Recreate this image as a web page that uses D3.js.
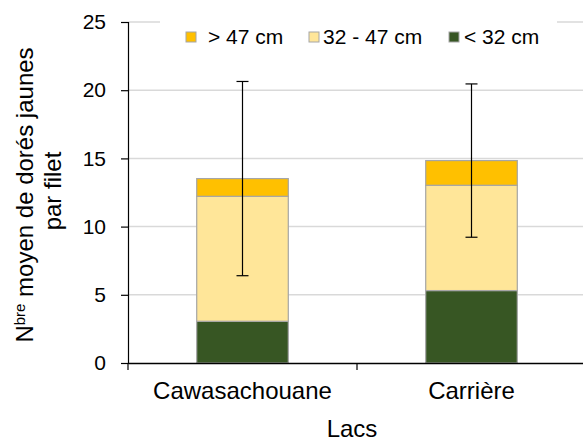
<!DOCTYPE html>
<html><head><meta charset="utf-8">
<script src="https://cdn.jsdelivr.net/npm/d3@7"></script>
<style>html,body{margin:0;padding:0;background:#fff;}svg{display:block;font-family:"Liberation Sans",Arial,sans-serif;}</style>
</head><body><svg id="c" width="583" height="441"></svg>
<script>
const categories = ["Cawasachouane", "Carrière"];
const seriesNames = ["< 32 cm", "32 - 47 cm", "> 47 cm"];
const small = [3.06, 5.31];
const medium = [9.16, 7.72];
const large = [1.30, 1.81];
const errorHalf = [7.12, 5.62];
const yTicks = [0, 5, 10, 15, 20, 25];
const colors = ["#375623", "#FFE699", "#FFC000"];
const legendOrder = ["> 47 cm", "32 - 47 cm", "< 32 cm"];

const svg = d3.select("#c");
const y = d3.scaleLinear().domain([0, 25]).range([363, 22]);
const x = d3.scaleBand().domain(categories).range([128, 586]).paddingInner(0).paddingOuter(0);

// gridlines
svg.append("g").selectAll("line").data(yTicks.filter(d => d > 0)).join("line")
  .attr("x1", 128).attr("x2", 586).attr("y1", d => y(d)).attr("y2", d => y(d))
  .attr("stroke", "#d9d9d9").attr("stroke-width", 1.5);

// stacked data
const rows = categories.map((c, i) => ({cat: c, "< 32 cm": small[i], "32 - 47 cm": medium[i], "> 47 cm": large[i]}));
const stack = d3.stack().keys(seriesNames)(rows);
const bw = x.bandwidth() * 0.4;
svg.append("g").selectAll("g").data(stack).join("g")
  .attr("fill", (d, i) => colors[i])
  .selectAll("rect").data(d => d).join("rect")
  .attr("x", d => x(d.data.cat) + (x.bandwidth() - bw) / 2)
  .attr("width", bw)
  .attr("y", d => y(d[1]))
  .attr("height", d => y(d[0]) - y(d[1]))
  .attr("stroke", "#a6a6a6").attr("stroke-width", 1.2);

// error bars
const totals = categories.map((c, i) => small[i] + medium[i] + large[i]);
const eg = svg.append("g").attr("stroke", "#000").attr("stroke-width", 1.2);
categories.forEach((c, i) => {
  const cx = x(c) + x.bandwidth() / 2;
  const hi = y(totals[i] + errorHalf[i]), lo = y(totals[i] - errorHalf[i]);
  eg.append("line").attr("x1", cx).attr("x2", cx).attr("y1", hi).attr("y2", lo);
  eg.append("line").attr("x1", cx - 6).attr("x2", cx + 6).attr("y1", hi).attr("y2", hi);
  eg.append("line").attr("x1", cx - 6).attr("x2", cx + 6).attr("y1", lo).attr("y2", lo);
});

// y axis
const yAxis = d3.axisLeft(y).tickValues(yTicks).tickSize(7).tickPadding(15).tickFormat(d3.format("d"));
const ya = svg.append("g").attr("transform", "translate(128,0)").call(yAxis);
ya.select(".domain").attr("stroke", "#000").attr("stroke-width", 1.2);
ya.selectAll(".tick line").attr("stroke", "#000").attr("stroke-width", 1.2);
ya.selectAll("text").attr("font-size", 21).attr("fill", "#000").attr("font-family", "Liberation Sans, Arial, sans-serif");

// x axis
const xAxis = d3.axisBottom(x).tickSize(0).tickPadding(19);
const xa = svg.append("g").attr("transform", "translate(0,363)").call(xAxis);
xa.select(".domain").attr("stroke", "#000").attr("stroke-width", 1.5);
xa.selectAll("text").attr("font-size", 24).attr("fill", "#000").attr("font-family", "Liberation Sans, Arial, sans-serif");
const bounds = x.domain().map(d => x(d)).concat([x.range()[1]]);
svg.append("g").selectAll("line").data(bounds).join("line")
  .attr("x1", d => d).attr("x2", d => d).attr("y1", 363).attr("y2", 370)
  .attr("stroke", "#000").attr("stroke-width", 1.2);

// axis titles
svg.append("text").attr("x", 352).attr("y", 437).attr("text-anchor", "middle")
  .attr("font-size", 24).attr("fill", "#000").text("Lacs");
const yt = svg.append("text").attr("transform", "translate(33,195) rotate(-90)")
  .attr("text-anchor", "middle").attr("font-size", 24).attr("fill", "#000");
yt.append("tspan").text("N");
yt.append("tspan").attr("font-size", 15).attr("dy", -8).text("bre");
yt.append("tspan").attr("dy", 8).text(" moyen de dorés jaunes");
svg.append("text").attr("transform", "translate(61,191) rotate(-90)")
  .attr("text-anchor", "middle").attr("font-size", 24).attr("fill", "#000").text("par filet");

// legend
const lg = svg.append("g");
lg.append("rect").attr("x", 160).attr("y", 14).attr("width", 397).attr("height", 40).attr("fill", "#fff");
const legendPos = [{sx: 186, tx: 208}, {sx: 309, tx: 323}, {sx: 449, tx: 464}];
legendOrder.forEach((name, i) => {
  const ci = seriesNames.indexOf(name);
  lg.append("rect").attr("x", legendPos[i].sx).attr("y", 32).attr("width", 10).attr("height", 10)
    .attr("fill", colors[ci]).attr("stroke", "#a6a6a6").attr("stroke-width", 1);
  lg.append("text").attr("x", legendPos[i].tx).attr("y", 44).attr("font-size", 21).attr("fill", "#000").text(name);
});
</script></body></html>
